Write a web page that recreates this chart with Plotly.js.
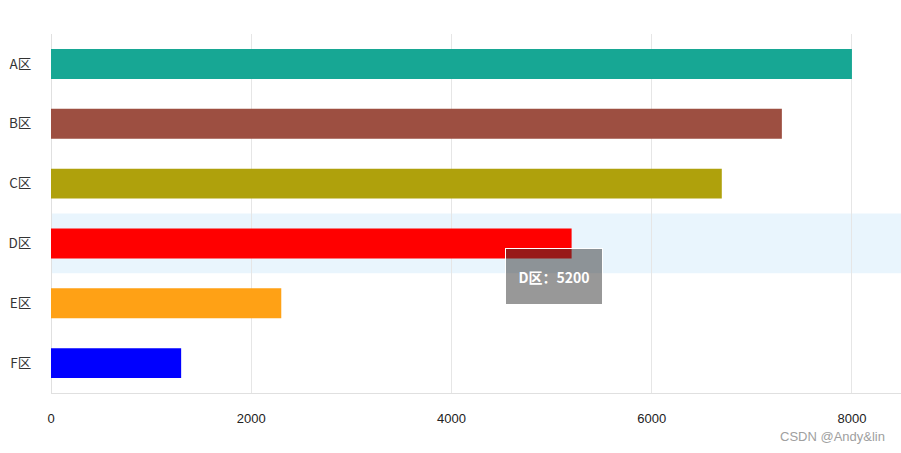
<!DOCTYPE html>
<html>
<head>
<meta charset="utf-8">
<script src="https://cdn.plot.ly/plotly-3.0.1.min.js"></script>
<style>html,body{margin:0;padding:0;background:#fff;}#chart{width:901px;height:453px;}</style>
</head>
<body>
<div id="chart"></div>
<script>
const categories = ['A区', 'B区', 'C区', 'D区', 'E区', 'F区'];
const values = [8000, 7300, 6700, 5200, 2300, 1300];
const barColors = ['#17a794', '#9d4f41', '#afa10c', '#ff0000', '#ffa115', '#0000ff'];
const xTicks = [0, 2000, 4000, 6000, 8000];
const hoverCategory = 'D区';
const hoverValue = values[categories.indexOf(hoverCategory)];
const watermark = 'CSDN @Andy&lin';

const trace = {
  type: 'bar',
  orientation: 'h',
  y: categories,
  x: values,
  width: 0.5,
  marker: {color: barColors},
  hoverinfo: 'none'
};

const hIdx = categories.indexOf(hoverCategory);

const layout = {
  width: 901,
  height: 453,
  margin: {l: 51, r: 0, t: 34, b: 60},
  paper_bgcolor: '#fff',
  plot_bgcolor: '#fff',
  showlegend: false,
  bargap: 0.5,
  xaxis: {
    range: [0, 8490],
    tickvals: xTicks,
    ticktext: xTicks.map(String),
    showgrid: true,
    gridcolor: '#e6e6e6',
    gridwidth: 1,
    zeroline: true,
    zerolinecolor: '#e0e0e0',
    zerolinewidth: 1,
    showline: true,
    linecolor: '#e0e0e0',
    linewidth: 1,
    ticks: 'outside',
    ticklen: 13,
    tickcolor: 'rgba(0,0,0,0)',
    tickfont: {family: 'Liberation Sans, Arial, sans-serif', size: 13, color: '#222'},
    fixedrange: true
  },
  yaxis: {
    type: 'category',
    autorange: 'reversed',
    showgrid: false,
    showline: false,
    ticks: 'outside',
    ticklen: 16,
    tickcolor: 'rgba(0,0,0,0)',
    tickfont: {family: 'Noto Sans CJK SC, DejaVu Sans, sans-serif', size: 13.5, color: '#333'},
    fixedrange: true
  },
  shapes: [{
    type: 'rect',
    layer: 'below',
    xref: 'paper', x0: 0, x1: 1,
    yref: 'y', y0: hIdx - 0.5, y1: hIdx + 0.5,
    fillcolor: '#e9f5fd',
    line: {width: 0}
  }],
  annotations: [
    {
      x: hoverValue, y: hoverCategory,
      xref: 'x', yref: 'y',
      xanchor: 'left', yanchor: 'top',
      xshift: -67, yshift: -5,
      text: '<b>' + hoverCategory + '：' + hoverValue + '</b>',
      showarrow: false,
      width: 94, height: 53,
      align: 'center', valign: 'middle',
      bgcolor: 'rgba(50,50,50,0.5)',
      bordercolor: '#ffffff',
      borderwidth: 1,
      borderpad: 1,
      font: {family: 'Noto Sans CJK SC, DejaVu Sans, sans-serif', size: 14, color: '#ffffff'}
    },
    {
      x: 1, y: 0, xref: 'paper', yref: 'paper',
      xanchor: 'right', yanchor: 'middle',
      xshift: -14, yshift: -43,
      text: watermark,
      showarrow: false,
      font: {family: 'Liberation Sans, Arial, sans-serif', size: 13, color: '#a0a0a0'}
    }
  ]
};

Plotly.newPlot('chart', [trace], layout, {displayModeBar: false, staticPlot: true});
</script>
</body>
</html>
